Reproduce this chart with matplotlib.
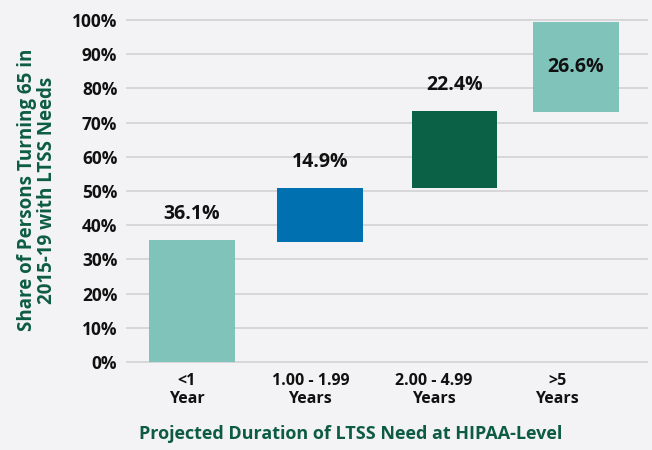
import matplotlib
matplotlib.use("Agg")
import matplotlib.pyplot as plt

plt.rcParams["font.family"] = ["Open Sans", "DejaVu Sans"]

# data
categories = ["<1\nYear", "1.00 - 1.99\nYears", "2.00 - 4.99\nYears", ">5\nYears"]
shares = [36.1, 14.9, 22.4, 26.6]
bar_bottom = [0.0, 35.2, 51.0, 73.2]
bar_top = [35.7, 50.9, 73.4, 99.4]
yticks = [0, 10, 20, 30, 40, 50, 60, 70, 80, 90, 100]

BG = "#f3f3f5"
GREEN_TXT = "#0d5c42"
colors = ["#7fc3ba", "#0070b0", "#0b6146", "#7fc3ba"]

fig = plt.figure(figsize=(6.52, 4.50), dpi=100, facecolor=BG)
ax = fig.add_axes([127 / 652, 1 - 362 / 450, 520 / 652, 342 / 450], facecolor=BG)

xpos = [0, 1, 2.05, 3]
heights = [t - b for t, b in zip(bar_top, bar_bottom)]
ax.bar(xpos, heights, bottom=bar_bottom, width=0.67, color=colors, zorder=3)

for i, (x, v) in enumerate(zip(xpos, shares)):
    if i == len(shares) - 1:
        y = (bar_top[i] + bar_bottom[i]) / 2
    else:
        y = bar_top[i] + 7.5
    ax.text(x, y, f"{v:.1f}%", ha="center", va="center",
            fontsize=14, fontweight="bold", color="#111111", zorder=4)

ax.set_xlim(-0.508, 3.555)
ax.set_ylim(0, 100)
ax.set_yticks(yticks)
ax.set_yticklabels([f"{t}%" for t in yticks], fontsize=12.5, fontweight="bold")
ax.yaxis.grid(True, color="#d4d4d6", linewidth=1.3, zorder=0)
for gl in ax.get_ygridlines():
    gl.set_clip_on(False)
ax.set_xticks([0.965 * i - 0.04 for i in range(len(categories))])
ax.set_xticklabels(categories, fontsize=11.5, fontweight="bold", linespacing=1.15)
ax.tick_params(axis="both", length=0, colors="#111111")
ax.tick_params(axis="y", pad=7)
ax.tick_params(axis="x", pad=8)
for s in ax.spines.values():
    s.set_visible(False)

ax.set_xlabel("Projected Duration of LTSS Need at HIPAA-Level", fontsize=13,
              fontweight="bold", color=GREEN_TXT)
ax.xaxis.set_label_coords((351 - 127) / 520, -(425 - 362) / 342)
ax.set_ylabel("Share of Persons Turning 65 in\n2015-19 with LTSS Needs", fontsize=13.5,
              fontweight="bold", color=GREEN_TXT, linespacing=1.0)
ax.yaxis.set_label_coords(-(127 - 57) / 520, (362 - 190) / 342)

plt.savefig("out.png", dpi=100, facecolor=BG)
plt.close()
